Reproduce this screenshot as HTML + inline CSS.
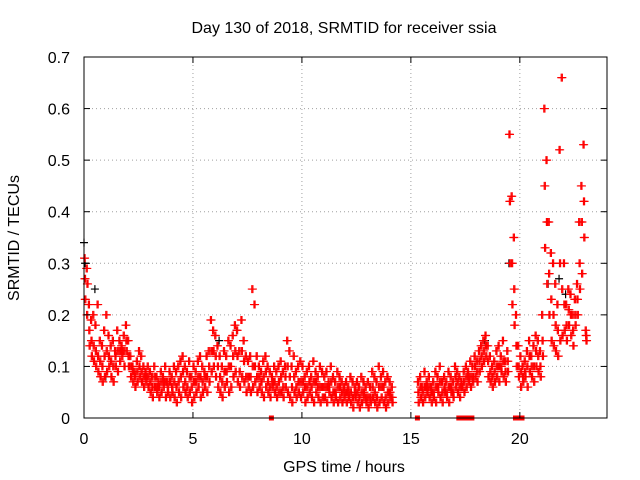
<!DOCTYPE html>
<html><head><meta charset="utf-8"><style>
body{margin:0;background:#fff;}
svg{display:block;font-family:"Liberation Sans",sans-serif;}
</style></head><body>
<svg id="chart" width="640" height="480" viewBox="0 0 640 480"></svg>
<script>
const tStart = 0, tStep = 0.1;
const srmtidHigh = [.31,.29,.22,.19,.2,.18,.22,.15,.14,.17,.2,.16,.14,.15,.13,.17,.15,.14,.16,.18,.15,.12,.1,.09,.11,.13,.12,.1,.09,.1,.09,.08,.1,.08,.07,.09,.08,.1,.07,.09,.08,.1,.09,.1,.11,.12,.1,.09,.11,.08,.1,.09,.11,.12,.1,.09,.12,.13,.19,.17,.16,.14,.12,.1,.13,.12,.15,.14,.16,.18,.17,.13,.19,.15,.12,.11,.12,.25,.22,.12,.1,.09,.11,.12,.1,.09,.08,.1,.09,.1,.11,.09,.1,.15,.13,.1,.12,.09,.1,.11,.1,.08,.09,.1,.08,.11,.09,.08,.1,.09,.08,.09,.07,.1,.08,.07,.09,.08,.07,.06,.07,.06,.08,.07,.06,.07,.06,.08,.07,.06,.07,.06,.09,.08,.07,.1,.08,.09,.07,.08,.07,.06,null,null,null,null,null,null,null,null,null,null,null,.07,.08,.06,.09,.07,.08,.06,.07,.09,.08,.1,.07,.08,.07,.09,.08,.07,.1,.09,.08,.07,.09,.1,.09,.11,.1,.12,.11,.13,.14,.15,.16,.14,.12,.1,.11,.13,.14,.12,.15,.11,.13,.55,.43,.35,.2,.14,.12,.1,.11,.13,.15,.12,.14,.16,.15,.13,.2,.6,.5,.38,.32,.3,.26,.22,.52,.66,.3,.22,.25,.24,.2,.23,.26,.38,.45,.53,.17];
const srmtidMid = [.27,.2,.17,.15,.14,.13,.12,.11,.1,.12,.13,.12,.11,.1,.12,.13,.13,.13,.13,.15,.12,.1,.09,.08,.09,.1,.09,.08,.08,.08,.07,.06,.08,.06,.06,.07,.07,.07,.06,.07,.06,.07,.06,.07,.08,.09,.07,.06,.08,.06,.07,.07,.08,.08,.07,.08,.08,.1,.13,.13,.12,.1,.08,.07,.09,.09,.1,.1,.12,.13,.12,.09,.13,.11,.08,.08,.08,.1,.1,.08,.08,.07,.08,.09,.07,.06,.07,.07,.06,.07,.08,.06,.08,.1,.08,.06,.08,.06,.07,.07,.07,.06,.06,.07,.06,.07,.07,.06,.06,.06,.06,.06,.06,.07,.05,.05,.06,.06,.05,.05,.05,.05,.05,.04,.05,.05,.04,.05,.05,.04,.04,.04,.06,.05,.04,.06,.06,.06,.04,.05,.05,.04,null,null,null,null,null,null,null,null,null,null,null,.05,.06,.05,.06,.06,.06,.05,.05,.06,.06,.07,.05,.06,.05,.06,.06,.05,.08,.07,.06,.06,.07,.08,.08,.08,.08,.1,.09,.11,.12,.13,.14,.11,.09,.08,.09,.1,.1,.1,.11,.09,.11,.42,.3,.25,.14,.1,.09,.08,.09,.1,.12,.1,.1,.13,.12,.1,.15,.45,.38,.28,.23,.2,.18,.17,.3,.25,.22,.18,.21,.2,.17,.2,.23,.3,.38,.42,.16];
const srmtidLow = [.23,.26,.14,.12,.11,.1,.09,.08,.07,.08,.09,.1,.08,.07,.1,.09,.11,.12,.1,.13,.1,.08,.07,.06,.07,.08,.07,.06,.07,.06,.05,.04,.06,.05,.04,.05,.06,.04,.05,.04,.05,.04,.03,.05,.04,.06,.05,.04,.05,.03,.04,.05,.06,.04,.05,.06,.05,.07,.09,.1,.08,.06,.05,.04,.06,.07,.05,.06,.08,.09,.07,.06,.08,.07,.05,.06,.05,.06,.07,.05,.06,.05,.04,.06,.05,.04,.06,.05,.04,.05,.05,.04,.06,.05,.04,.03,.05,.04,.05,.04,.05,.03,.04,.05,.04,.03,.05,.04,.03,.04,.04,.03,.05,.04,.03,.04,.03,.04,.03,.04,.03,.04,.03,.02,.04,.03,.02,.03,.04,.03,.02,.03,.04,.03,.02,.03,.04,.03,.02,.03,.04,.03,null,null,null,null,null,null,null,null,null,null,null,.03,.04,.03,.04,.05,.04,.03,.04,.03,.05,.04,.03,.05,.04,.03,.05,.04,.06,.05,.04,.06,.05,.06,.07,.06,.07,.08,.07,.09,.1,.11,.12,.08,.07,.06,.07,.08,.07,.09,.08,.07,.09,.3,.22,.18,.1,.08,.06,.07,.08,.06,.09,.08,.07,.1,.09,.08,.12,.33,.26,.2,.15,.14,.13,.12,.15,.16,.17,.15,.18,.16,.14,.18,.2,.25,.28,.35,.15];
const blackTimes = [0,0.05,0.5,1,6.2,7,18.4,19.5,21.3,21.8,22.1];
const blackValues = [.34,.3,.25,.08,.15,.17,.15,.3,.26,.27,.24];
const zeroTimes = [8.6,15.3,17.2,17.4,17.6,17.8,19.8,19.9,20.0,20.1];
const xTicks = [0,5,10,15,20];
const yTicks = [0,0.1,0.2,0.3,0.4,0.5,0.6,0.7];
const yTickLabels = ["0","0.1","0.2","0.3","0.4","0.5","0.6","0.7"];

const L=84,R=607,T=57,B=418;
const xs=t=>L+(t-0)/24*(R-L);
const ys=v=>B-(v/0.7)*(B-T);
const NS="http://www.w3.org/2000/svg";
const svg=document.getElementById('chart');
function mk(tag,attrs,parent){const e=document.createElementNS(NS,tag);for(const k in attrs)e.setAttribute(k,attrs[k]);(parent||svg).appendChild(e);return e;}

const grid=mk('g',{});


xTicks.forEach(t=>{if(t>0){const l=mk('line',{x1:xs(t),x2:xs(t),y1:T,y2:B,stroke:'#a0a0a0','stroke-dasharray':'1,3'},grid);}});
yTicks.forEach(v=>{if(v>0&&v<0.7){const l=mk('line',{x1:L,x2:R,y1:ys(v),y2:ys(v),stroke:'#a0a0a0','stroke-dasharray':'1,3'},grid);}});

const marks=mk('g',{});


function plus(t,v,color){const x=xs(t),y=ys(v);const p=mk('path',{d:`M${x-4},${y}h8M${x},${y-4}v8`,stroke:color,'stroke-width':1.2,fill:'none'},marks);return p;}
blackTimes.forEach((t,i)=>{const p=plus(t,blackValues[i],'#000');});
[[srmtidHigh,[0,0.05]],[srmtidMid,[0.02,0.07]],[srmtidLow,[0.035,0.085]]].forEach(([arr,offs])=>{
  offs.forEach(off=>{
  arr.forEach((v,i)=>{if(v==null)return;const t=tStart+i*tStep+off;const p=plus(t,v,'#f00');
    
    });
  });
});
zeroTimes.forEach(t=>{const r=mk('rect',{x:xs(t)-2.5,y:B-2.5,width:5,height:5,fill:'#f00'},marks);});

const ax=mk('g',{});


mk('rect',{x:L,y:T,width:R-L,height:B-T,fill:'none',stroke:'#000','stroke-width':1},ax);
xTicks.forEach(t=>{mk('line',{x1:xs(t),x2:xs(t),y1:B,y2:B-6,stroke:'#000'},ax);mk('line',{x1:xs(t),x2:xs(t),y1:T,y2:T+6,stroke:'#000'},ax);
  const tx=mk('text',{x:xs(t),y:B+26,'text-anchor':'middle','font-size':16},ax);tx.textContent=t;
  });
yTicks.forEach((v,i)=>{mk('line',{x1:L,x2:L+6,y1:ys(v),y2:ys(v),stroke:'#000'},ax);mk('line',{x1:R,x2:R-6,y1:ys(v),y2:ys(v),stroke:'#000'},ax);
  const tx=mk('text',{x:L-14,y:ys(v)+6,'text-anchor':'end','font-size':16},ax);tx.textContent=yTickLabels[i];
  });
</script>
<script>
(function(){const svg=document.getElementById('chart');const NS="http://www.w3.org/2000/svg";
const t1=document.createElementNS(NS,'text');t1.setAttribute('x',344);t1.setAttribute('y',33);t1.setAttribute('text-anchor','middle');t1.setAttribute('font-size',16);t1.textContent='Day 130 of 2018, SRMTID for receiver ssia';


svg.appendChild(t1);
const t2=document.createElementNS(NS,'text');t2.setAttribute('x',344);t2.setAttribute('y',472);t2.setAttribute('text-anchor','middle');t2.setAttribute('font-size',16);t2.textContent='GPS time / hours';


svg.appendChild(t2);
const t3=document.createElementNS(NS,'text');t3.setAttribute('transform','translate(19,238) rotate(-90)');t3.setAttribute('text-anchor','middle');t3.setAttribute('font-size',16);t3.textContent='SRMTID / TECUs';


svg.appendChild(t3);})();
</script>
</body></html>
